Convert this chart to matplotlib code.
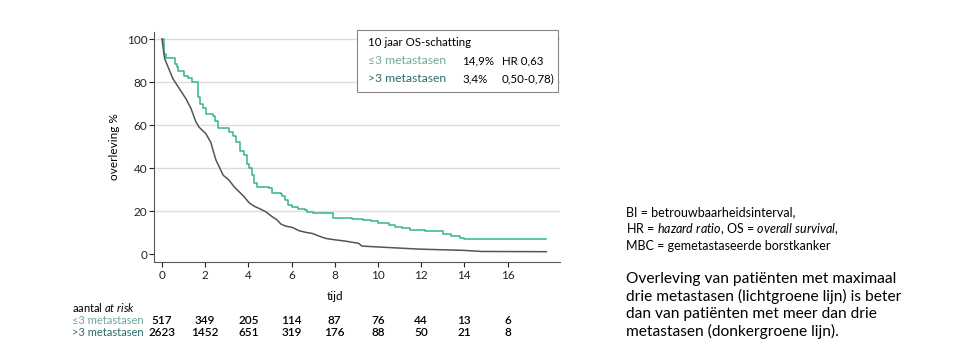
import matplotlib.pyplot as plt

plt.rcParams['font.family'] = ['Lato', 'DejaVu Sans']
plt.rcParams['mathtext.fontset'] = 'custom'
plt.rcParams['mathtext.rm'] = 'Lato'
plt.rcParams['mathtext.it'] = 'Lato:italic'

# Kaplan-Meier: <=3 metastasen (tijd, overleving %)
t_laag = [0, 0.1, 0.2, 0.6, 0.7, 0.75, 1.03, 1.2, 1.38, 1.62, 1.65, 1.75, 1.9, 2.05, 2.35,
          2.45, 2.6, 3.0, 3.1, 3.3, 3.45, 3.6, 3.8, 3.95, 4.05, 4.15, 4.25, 4.4, 4.95, 5.1,
          5.5, 5.55, 5.7, 5.85, 6.0, 6.3, 6.6, 6.7, 7.0, 7.9, 8.5, 8.8, 9.3, 9.7, 10.0, 10.5,
          10.8, 11.1, 11.5, 12.2, 12.7, 13.0, 13.4, 13.8, 14.0, 17.8]
s_laag = [100, 93, 91, 88.5, 87, 85, 83, 82, 80, 80, 73, 70, 68, 65, 64,
          62, 58.5, 58.5, 57, 55, 52, 48, 46, 42, 40, 37, 33, 31, 30.5, 28.5,
          28, 27, 25, 23, 22, 21, 20.5, 19.5, 19, 17, 17, 16.5, 16, 15.5, 14.5, 13.5,
          12.5, 12, 11, 10.5, 10.5, 9.5, 8.5, 7.5, 7, 7]

# Kaplan-Meier: >3 metastasen
t_hoog = [0, 0.12, 0.34, 0.5, 0.8, 1.1, 1.34, 1.57, 1.72, 2.03, 2.26, 2.4, 2.5, 2.65, 2.83,
          3.1, 3.34, 3.57, 3.8, 4.03, 4.26, 4.5, 4.8, 5.1, 5.34, 5.5, 5.72, 6.03, 6.34, 6.65,
          6.95, 7.26, 7.57, 7.88, 8.5, 9.1, 9.26, 10.0, 10.95, 11.9, 12.95, 14.0, 14.8, 17.8]
s_hoog = [100, 91, 85.6, 81.7, 77, 72.4, 67.8, 61.5, 59, 56, 52, 47, 43.7, 40.6, 36.7,
          34.4, 31.3, 29, 26.7, 23.9, 22.3, 21.2, 19.7, 17.4, 15.8, 14, 13, 12.4, 10.9, 10.1,
          9.6, 8.4, 7.3, 6.8, 6.0, 5.0, 3.7, 3.3, 2.8, 2.3, 2.0, 1.7, 1.2, 1.1]

# aantal at risk
risk_tijd = [0, 2, 4, 6, 8, 10, 12, 14, 16]
risk_laag = [517, 349, 205, 114, 87, 76, 44, 13, 6]
risk_hoog = [2623, 1452, 651, 319, 176, 88, 50, 21, 8]

groen = '#35b38c'
grijs = '#555555'
lbl_laag = '#6fa8a0'
lbl_hoog = '#2f6b6b'

fig = plt.figure(figsize=(9.61, 3.59), dpi=100)
ax = fig.add_axes([154 / 961, 1 - 262 / 359, 406 / 961, 230 / 359])

ax.step(t_laag, s_laag, where='post', color=groen, lw=1.1)
# the >3 curve has many tiny steps: draw it as a line through the read points
ax.plot(t_hoog, s_hoog, color=grijs, lw=1.1)

ax.set_xlim(-0.37, 18.43)
ax.set_ylim(-3.7, 103.3)
ax.set_xticks(range(0, 17, 2))
ax.set_yticks(range(0, 101, 20))
for y in range(20, 101, 20):
    ax.axhline(y, color='#dcdcdc', lw=1, zorder=0)
ax.spines['top'].set_visible(False)
ax.spines['right'].set_visible(False)
for s in ['left', 'bottom']:
    ax.spines[s].set_color('#555555')
ax.tick_params(colors='#222222', labelsize=8.5, length=3.6, direction='out', pad=1)
ax.tick_params(axis='x', pad=2)
ax.set_ylabel('overleving %', fontsize=8.5, labelpad=5)

fig.text(335 / 961, 1 - 296 / 359, 'tijd', ha='center', va='center', fontsize=8.5)

# legend box
fig.patches.append(plt.Rectangle((357 / 961, 1 - 92 / 359), 201 / 961, 62 / 359,
                                 transform=fig.transFigure, fill=True, facecolor='white',
                                 edgecolor='#888888', lw=0.8))
fig.text(368 / 961, 1 - 43 / 359, '10 jaar OS-schatting', fontsize=8.3, va='center')
fig.text(368 / 961, 1 - 61 / 359, '≤3 metastasen', fontsize=8.7, va='center', color=lbl_laag)
fig.text(368 / 961, 1 - 79 / 359, '>3 metastasen', fontsize=8.7, va='center', color=lbl_hoog)
fig.text(462 / 961, 1 - 61 / 359, '14,9%', fontsize=8.3, va='center')
fig.text(462 / 961, 1 - 79 / 359, '3,4%', fontsize=8.3, va='center')
fig.text(502 / 961, 1 - 61 / 359, 'HR 0,63', fontsize=8.3, va='center')
fig.text(502 / 961, 1 - 79 / 359, '0,50-0,78)', fontsize=8.3, va='center')

# risk table
fig.text(72 / 961, 1 - 307 / 359, 'aantal $\\it{at\\ risk}$', fontsize=8, va='center')
fig.text(72 / 961, 1 - 320 / 359, '≤3 metastasen', fontsize=8, va='center', color=lbl_laag)
fig.text(72 / 961, 1 - 332 / 359, '>3 metastasen', fontsize=8, va='center', color=lbl_hoog)
for t, a, b in zip(risk_tijd, risk_laag, risk_hoog):
    xf = fig.transFigure.inverted().transform(ax.transData.transform((t, 0)))[0]
    fig.text(xf, 1 - 320 / 359, str(a), fontsize=8.5, ha='center', va='center',
             fontweight='semibold')
    fig.text(xf, 1 - 332 / 359, str(b), fontsize=8.5, ha='center', va='center',
             fontweight='semibold')

# right-hand notes
fig.text(626 / 961, 1 - 212 / 359, 'BI = betrouwbaarheidsinterval,', fontsize=9, va='center')
fig.text(626 / 961, 1 - 229 / 359, 'HR = $\\it{hazard\\ ratio}$, OS = $\\it{overall\\ survival}$,',
         fontsize=9, va='center')
fig.text(626 / 961, 1 - 246 / 359, 'MBC = gemetastaseerde borstkanker', fontsize=9, va='center')
fig.text(626 / 961, 1 - 272 / 359,
         'Overleving van patiënten met maximaal\ndrie metastasen (lichtgroene lijn) is beter\n'
         'dan van patiënten met meer dan drie\nmetastasen (donkergroene lijn).',
         fontsize=11.2, va='top', linespacing=1.25)

fig.savefig('out.png', dpi=100)
